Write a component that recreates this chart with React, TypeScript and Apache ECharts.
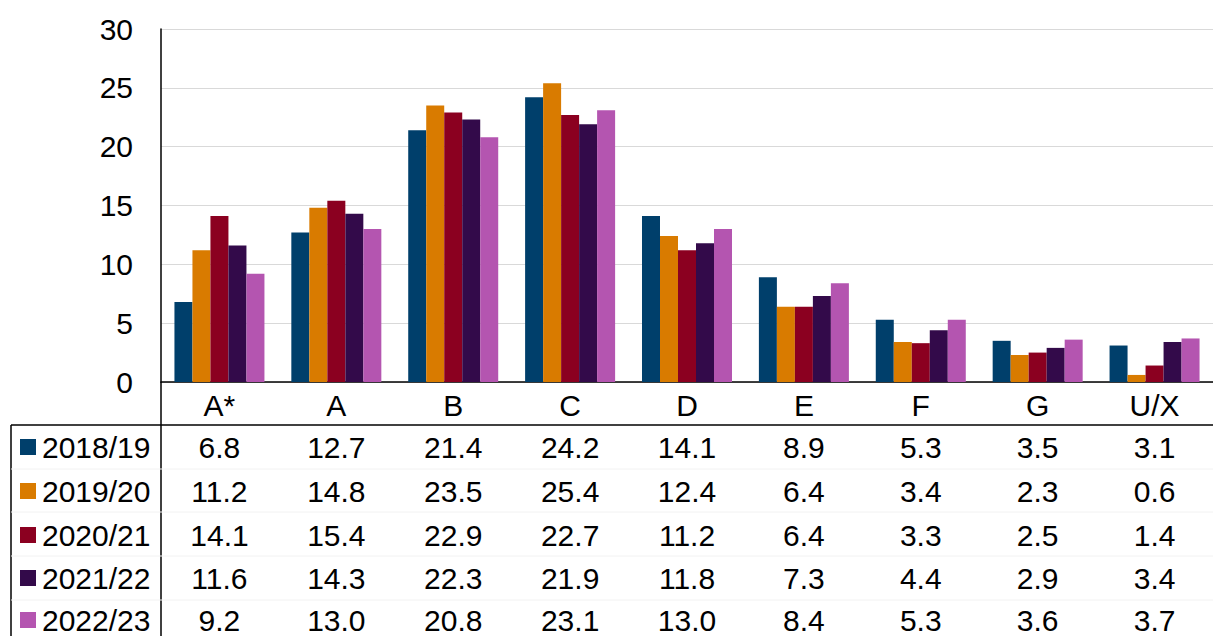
import React, { useEffect, useRef } from 'react';
import * as echarts from 'echarts';

const categories = ['A*', 'A', 'B', 'C', 'D', 'E', 'F', 'G', 'U/X'];
const years = ['2018/19', '2019/20', '2020/21', '2021/22', '2022/23'];
const v1819 = [6.8, 12.7, 21.4, 24.2, 14.1, 8.9, 5.3, 3.5, 3.1];
const v1920 = [11.2, 14.8, 23.5, 25.4, 12.4, 6.4, 3.4, 2.3, 0.6];
const v2021 = [14.1, 15.4, 22.9, 22.7, 11.2, 6.4, 3.3, 2.5, 1.4];
const v2122 = [11.6, 14.3, 22.3, 21.9, 11.8, 7.3, 4.4, 2.9, 3.4];
const v2223 = [9.2, 13.0, 20.8, 23.1, 13.0, 8.4, 5.3, 3.6, 3.7];
const colors = ['#003f6b', '#d97b00', '#8b0020', '#330a4a', '#b455b0'];

const FONT = 'Liberation Sans, Arial, sans-serif';
const FS = 30;
const rowY = [447, 491, 535, 578, 620];

const App: React.FC = () => {
    const ref = useRef<HTMLDivElement>(null);

    useEffect(() => {
        if (!ref.current) return;
        const chart = echarts.init(ref.current, null, { renderer: 'svg' });
        const all = [v1819, v1920, v2021, v2122, v2223];
        chart.setOption({
            animation: false,
            grid: { left: 161, top: 29, right: 0, height: 353 },
            xAxis: {
                type: 'category',
                data: categories,
                axisLine: { lineStyle: { color: '#000', width: 1.5 } },
                axisTick: { show: false },
                axisLabel: { color: '#000', fontSize: FS, fontFamily: FONT, margin: 8 },
            },
            yAxis: {
                type: 'value',
                min: 0,
                max: 30,
                interval: 5,
                axisLine: { show: true, lineStyle: { color: '#000', width: 1.5 } },
                axisLabel: { color: '#000', fontSize: FS, fontFamily: FONT, margin: 28 },
                splitLine: { lineStyle: { color: '#d9d9d9' } },
            },
            series: all.map((d, i) => ({
                name: years[i],
                type: 'bar',
                data: d,
                barGap: '0%',
                barCategoryGap: '23%',
                itemStyle: { color: colors[i] },
            })),
        });

        const graphic: any[] = [
            { type: 'line', shape: { x1: 11, y1: 425, x2: 1213, y2: 425 }, style: { stroke: '#000', lineWidth: 1.5 } },
            { type: 'line', shape: { x1: 11, y1: 425, x2: 11, y2: 636 }, style: { stroke: '#000', lineWidth: 1.5 } },
            { type: 'line', shape: { x1: 161, y1: 382, x2: 161, y2: 636 }, style: { stroke: '#000', lineWidth: 1.5 } },
        ];
        [469, 512, 556, 600].forEach((y) =>
            graphic.push({ type: 'line', shape: { x1: 11, y1: y, x2: 1213, y2: y }, style: { stroke: '#f2f2f2', lineWidth: 1 } })
        );
        years.forEach((y, r) => {
            graphic.push({ type: 'rect', shape: { x: 20, y: rowY[r] - 8, width: 16, height: 16 }, style: { fill: colors[r] } });
            graphic.push({
                type: 'text', x: 42, y: rowY[r],
                style: { text: y, fill: '#000', fontSize: FS, fontFamily: FONT, verticalAlign: 'middle' },
            });
            categories.forEach((c, i) => {
                const x = chart.convertToPixel({ xAxisIndex: 0 }, c) as number;
                graphic.push({
                    type: 'text', x, y: rowY[r],
                    style: { text: all[r][i].toFixed(1), fill: '#000', fontSize: FS, fontFamily: FONT, align: 'center', verticalAlign: 'middle' },
                });
            });
        });
        chart.setOption({ graphic });

        return () => chart.dispose();
    }, []);

    return <div ref={ref} style={{ position: 'absolute', left: 0, top: 0, width: 1213, height: 636 }} />;
};

export default App;
